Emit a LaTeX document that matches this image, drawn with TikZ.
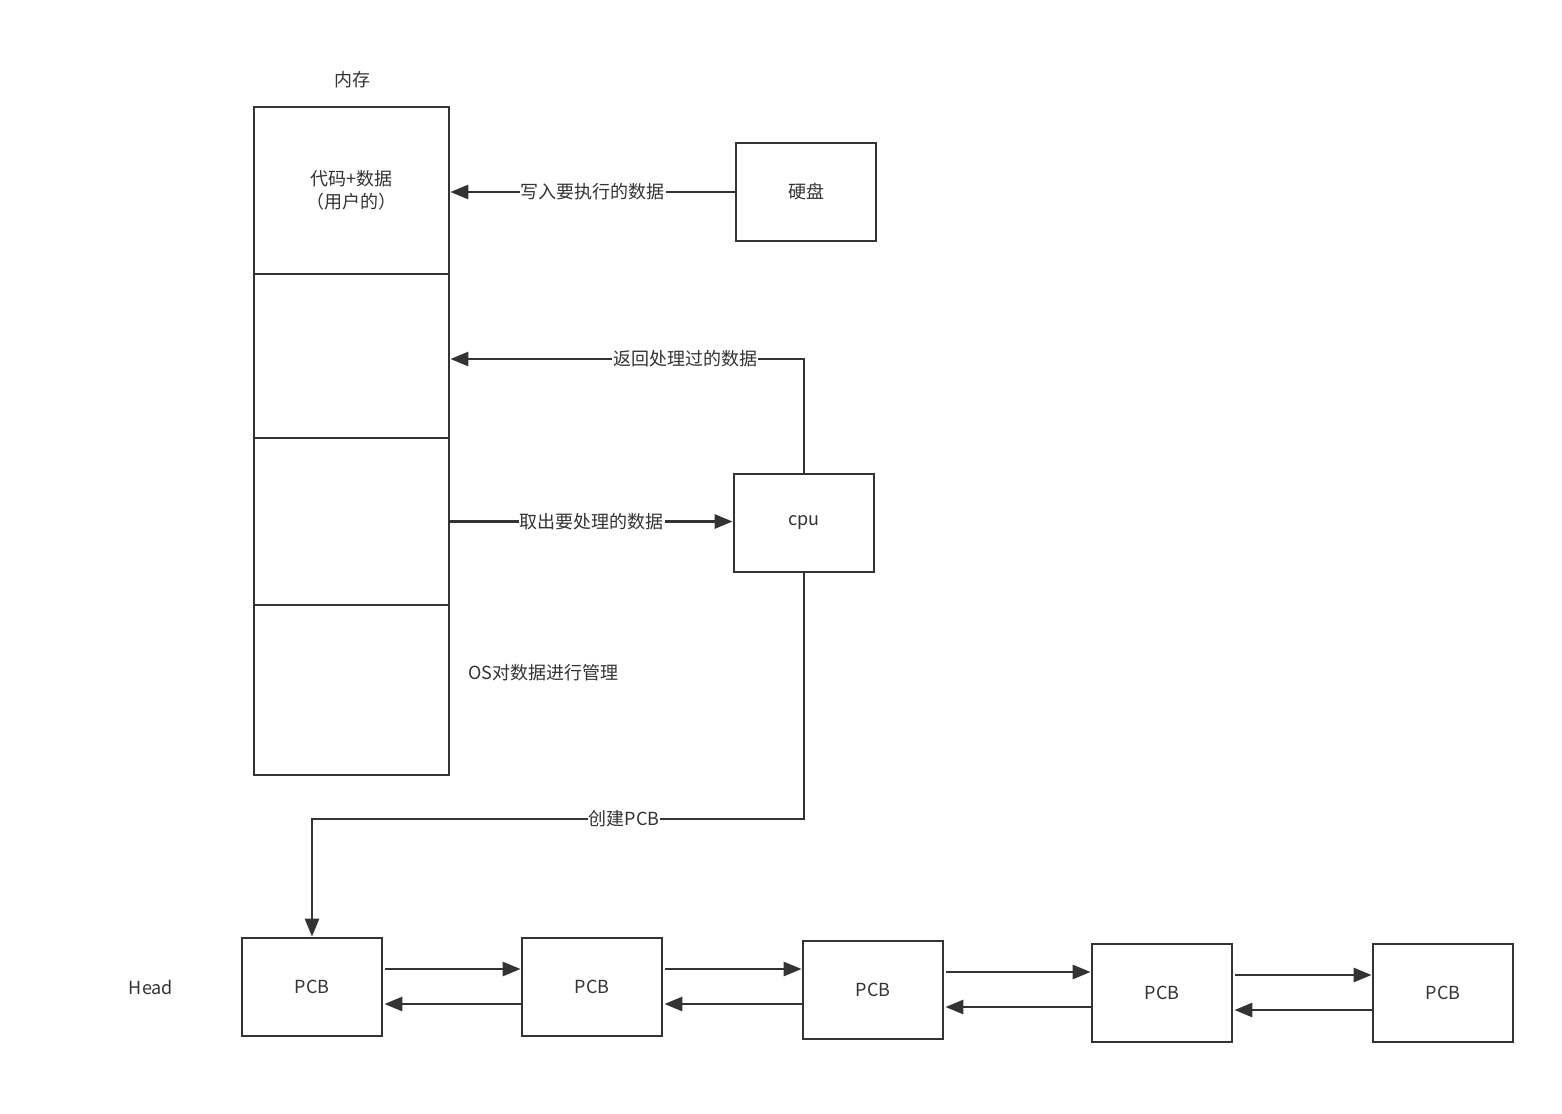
\documentclass[tikz,border=0pt]{standalone}
\usepackage{fontspec}
\setmainfont{Noto Sans CJK SC}
\usetikzlibrary{arrows.meta,calc}
\definecolor{ink}{HTML}{333333}
\tikzset{
  box/.style={draw=ink, line width=2.8pt, fill=white, text=ink, align=center,
    font=\fontsize{18}{23}\selectfont, inner sep=0pt},
  membox/.style={box, minimum width=195pt},
  pcb/.style={box, minimum width=140pt, minimum height=98pt},
  conn/.style={draw=ink, line width=2.8pt, -{Triangle[length=18pt,width=14pt]}},
  lbl/.style={fill=white, text=ink, font=\fontsize{18}{23}\selectfont, inner sep=1pt},
  plain/.style={text=ink, font=\fontsize{18}{23}\selectfont, inner sep=0pt}
}
\begin{document}
\begin{tikzpicture}[x=1pt,y=-1pt]
\useasboundingbox (0,0) rectangle (1562,1113);
% memory
\node[plain] (memlbl) at (352,80) {内存};
\node[membox, minimum height=167pt] (m1) at (351.5,190.5) {代码+数据\\（用户的）};
\node[membox, minimum height=164pt] (m2) at (351.5,356) {};
\node[membox, minimum height=167pt] (m3) at (351.5,521.5) {};
\node[membox, minimum height=170pt] (m4) at (351.5,690) {};
\node[plain, anchor=west] (os) at (468,673) {OS对数据进行管理};
% disk and cpu
\node[box, minimum width=140pt, minimum height=98pt] (hd) at (806,192) {硬盘};
\node[box, minimum width=140pt, minimum height=98pt] (cpu) at (804,523) {cpu};
% connectors to memory
\draw[conn] (hd.west) -- (hd.west -| m1.east) node[lbl, midway] (l1) {写入要执行的数据};
\coordinate (rt) at (804,359);
\draw[conn] (cpu.north) -- (rt) -- (rt -| m2.east);
\node[lbl] (l2) at (685,359) {返回处理过的数据};
\draw[conn] (m3.east) -- (m3.east -| cpu.west) node[lbl, midway] (l3) {取出要处理的数据};
% PCB list
\node[plain] (head) at (151,987) {Head};
\node[pcb] (p1) at (312,987) {PCB};
\node[pcb] (p2) at (592,987) {PCB};
\node[pcb] (p3) at (873,990) {PCB};
\node[pcb] (p4) at (1162,993) {PCB};
\node[pcb] (p5) at (1443,993) {PCB};
\coordinate (bend) at (804,819);
\draw[conn] (cpu.south) -- (bend) -| (p1.north);
\node[lbl] (l4) at (624,819) {创建PCB};
\foreach \a/\b in {p1/p2,p2/p3,p3/p4,p4/p5}{
  \coordinate (f\a) at ($(\a.east)+(2,-18)$);
  \coordinate (r\a) at ($(\a.east)+(1,17)$);
  \draw[conn] (f\a) -- (f\a -| \b.west);
  \draw[conn] (r\a -| \b.west) -- (r\a);
}
\end{tikzpicture}
\end{document}
